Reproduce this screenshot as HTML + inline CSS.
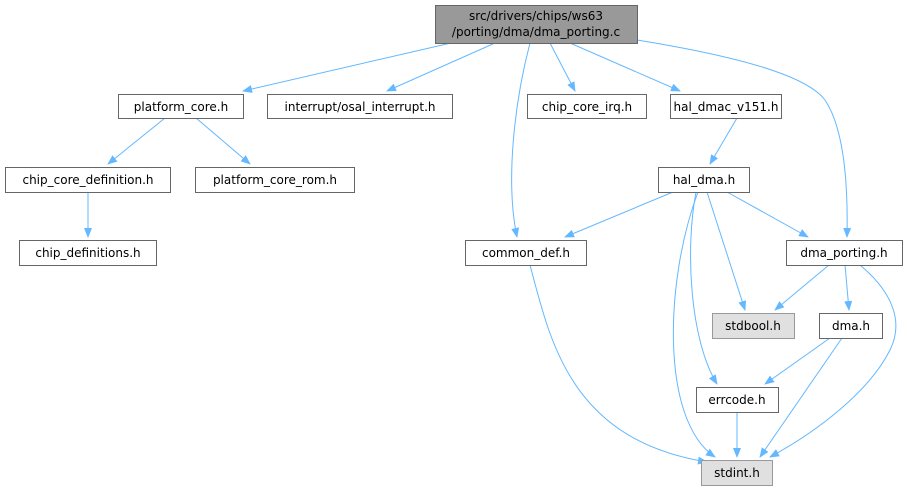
<!DOCTYPE html>
<html><head><meta charset="utf-8"><style>body{margin:0;background:#fff}svg{display:block}</style></head><body>
<svg width="907" height="491" viewBox="0 0 907 491" font-family="DejaVu Sans, sans-serif" font-size="12">
<defs><marker id="a" markerWidth="10" markerHeight="8" refX="9" refY="4" orient="auto" markerUnits="userSpaceOnUse"><path d="M0,0 L10,4 L0,8 Z" fill="#63b8ff"/></marker></defs>
<g stroke="#63b8ff" stroke-width="1" fill="none" marker-end="url(#a)">
<path d="M451,43 L243,91"/>
<path d="M495,43 L387,91"/>
<path d="M530,43 C515,100 505,180 517,237"/>
<path d="M550,43 L575,91"/>
<path d="M570,43 L680,91"/>
<path d="M637,40 C760,60 810,80 825,100 C845,130 848,190 847,237"/>
<path d="M165,118 L108,164"/>
<path d="M196,118 L250,164"/>
<path d="M88,192 L88,237"/>
<path d="M737,118 L710,164"/>
<path d="M673,192 L565,237"/>
<path d="M727,192 L808,237"/>
<path d="M707,192 L745,310"/>
<path d="M698,192 C665,280 660,420 715,457"/>
<path d="M696,192 C685,250 690,340 717,384"/>
<path d="M829,265 L775,310"/>
<path d="M845,265 L849,310"/>
<path d="M860,265 C890,290 905,320 890,350 C870,390 820,430 770,457"/>
<path d="M530,265 C550,340 570,440 707,462"/>
<path d="M830,338 L765,384"/>
<path d="M842,338 L760,457"/>
<path d="M737,412 L737,457"/>
</g>
<g stroke="#666" stroke-width="1">
<rect x="435.5" y="5.5" width="202" height="38" fill="#999"/>
<rect x="118.5" y="94.5" width="125" height="24" fill="#fff"/>
<rect x="267.5" y="94.5" width="185" height="24" fill="#fff"/>
<rect x="527.5" y="94.5" width="119" height="24" fill="#fff"/>
<rect x="670.5" y="94.5" width="111" height="24" fill="#fff"/>
<rect x="5.5" y="167.5" width="165" height="25" fill="#fff"/>
<rect x="195.5" y="167.5" width="159" height="25" fill="#fff"/>
<rect x="19.5" y="240.5" width="137" height="25" fill="#fff"/>
<rect x="658.5" y="167.5" width="91" height="25" fill="#fff"/>
<rect x="465.5" y="240.5" width="121" height="25" fill="#fff"/>
<rect x="786.5" y="240.5" width="116" height="25" fill="#fff"/>
<rect x="712.5" y="313.5" width="82" height="25" fill="#e0e0e0" stroke="#999"/>
<rect x="819.5" y="313.5" width="63" height="25" fill="#fff"/>
<rect x="696.5" y="387.5" width="82" height="25" fill="#fff"/>
<rect x="701.5" y="460.5" width="71" height="25" fill="#e0e0e0" stroke="#999"/>
</g>
<g fill="#000" text-anchor="middle">
<text x="536" y="20">src/drivers/chips/ws63</text>
<text x="536" y="36">/porting/dma/dma_porting.c</text>
<text x="181" y="111">platform_core.h</text>
<text x="360" y="111">interrupt/osal_interrupt.h</text>
<text x="587" y="111">chip_core_irq.h</text>
<text x="726" y="111">hal_dmac_v151.h</text>
<text x="88" y="184">chip_core_definition.h</text>
<text x="275" y="184">platform_core_rom.h</text>
<text x="88" y="257">chip_definitions.h</text>
<text x="704" y="184">hal_dma.h</text>
<text x="526" y="257">common_def.h</text>
<text x="844" y="257">dma_porting.h</text>
<text x="753" y="330">stdbool.h</text>
<text x="851" y="330">dma.h</text>
<text x="737" y="404">errcode.h</text>
<text x="737" y="477">stdint.h</text>
</g>
</svg>
</body></html>
